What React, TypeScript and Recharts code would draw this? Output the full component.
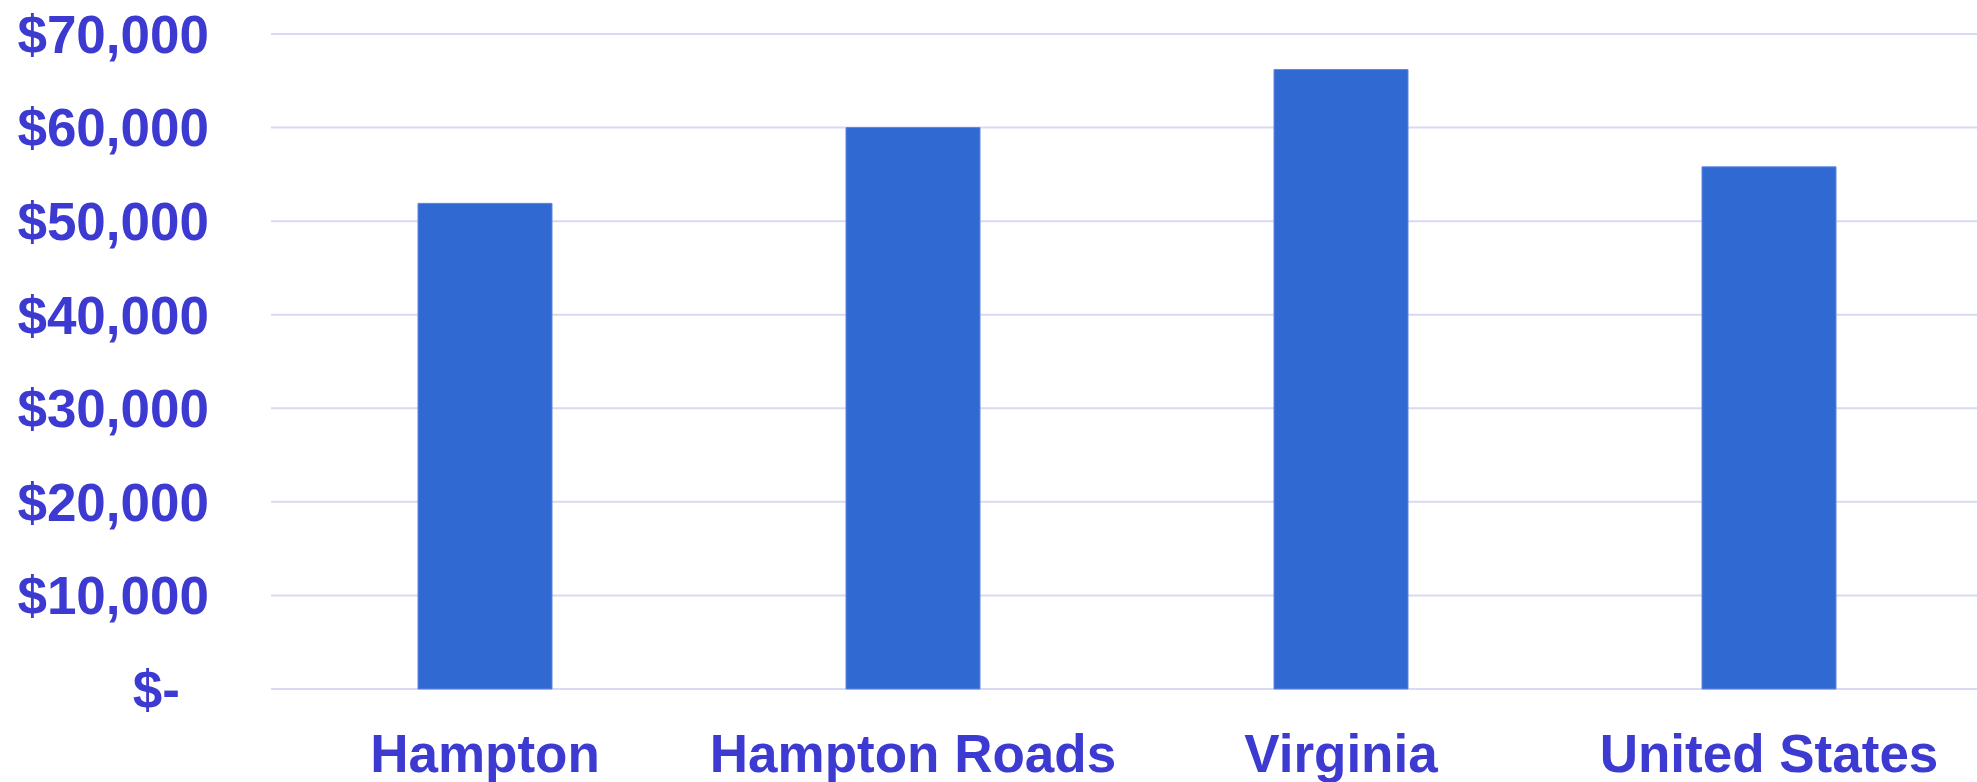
import React from "react";
import { BarChart, Bar, XAxis, YAxis, CartesianGrid } from "recharts";

const categories = ["Hampton", "Hampton Roads", "Virginia", "United States"];
const incomeValues = [51900, 60000, 66200, 55800];
const yTicks = [0, 10000, 20000, 30000, 40000, 50000, 60000, 70000];

const data = categories.map((name, i) => ({ name, value: incomeValues[i] }));

const TEXT_COLOR = "#3C3AD1";
const BAR_COLOR = "#3169D3";
const GRID_COLOR = "#D9D9F2";
const FONT = "'Liberation Sans', Arial, sans-serif";

const fmt = (v: number) => (v === 0 ? "$-" : "$" + v.toLocaleString("en-US"));

const YTick = (props: any) => {
  const { x, y, payload } = props;
  const v = payload.value as number;
  return (
    <text
      x={x}
      y={y}
      dx={v === 0 ? -29 : 0}
      dy="0.355em"
      textAnchor="end"
      fill={TEXT_COLOR}
      fontFamily={FONT}
      fontWeight="bold"
      fontSize={53}
    >
      {fmt(v)}
    </text>
  );
};

const XTick = (props: any) => {
  const { x, y, payload } = props;
  return (
    <text
      x={x}
      y={y}
      dy="0.71em"
      textAnchor="middle"
      fill={TEXT_COLOR}
      fontFamily={FONT}
      fontWeight="bold"
      fontSize={53}
    >
      {payload.value}
    </text>
  );
};

export default function App() {
  return (
    <div
      style={{
        position: "absolute",
        left: 0,
        top: 0,
        width: 1977,
        height: 782,
        background: "#fff",
        overflow: "hidden",
      }}
    >
      <BarChart
        width={1983}
        height={782}
        data={data}
        margin={{ top: 34, right: 0, left: 0, bottom: 33 }}
      >
        <CartesianGrid vertical={false} stroke={GRID_COLOR} strokeWidth={2} />
        <XAxis
          dataKey="name"
          height={60}
          axisLine={false}
          tickLine={false}
          tickSize={0}
          tickMargin={45}
          tick={<XTick />}
          interval={0}
        />
        <YAxis
          width={271}
          domain={[0, 70000]}
          ticks={yTicks}
          axisLine={false}
          tickLine={false}
          tickSize={0}
          tickMargin={62}
          tick={<YTick />}
          interval={0}
        />
        <Bar
          dataKey="value"
          fill={BAR_COLOR}
          stroke="#5F86DE"
          strokeWidth={1}
          barSize={134}
          isAnimationActive={false}
        />
      </BarChart>
    </div>
  );
}
